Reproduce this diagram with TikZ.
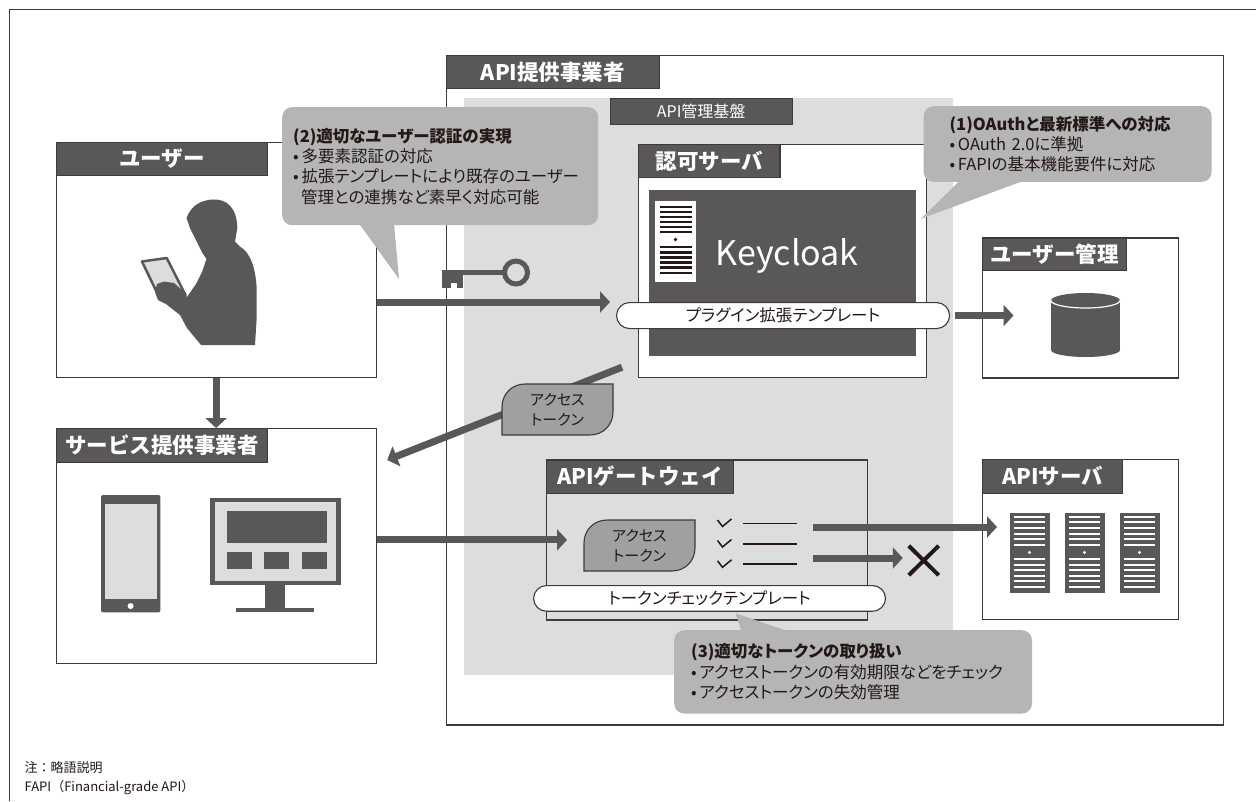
\documentclass[tikz,border=0pt]{standalone}
\usepackage{fontspec}
\setmainfont{Noto Sans CJK JP}
\newfontfamily\propjp{Noto Sans CJK JP}[RawFeature=+palt]
\usetikzlibrary{arrows.meta,positioning}

\definecolor{ink}{HTML}{231815}
\definecolor{edge}{HTML}{3E3A39}
\definecolor{slate}{HTML}{595757}
\definecolor{pale}{HTML}{DCDDDD}
\definecolor{bubble}{HTML}{B5B5B6}
\definecolor{tokengray}{HTML}{9FA0A0}

\tikzset{
  box/.style={draw=edge, line width=1.2pt, fill=white, anchor=north west, inner sep=0pt},
  tabhead/.style={draw=edge, line width=1.2pt, fill=slate, text=white, anchor=north west, inner sep=0pt, font=\bfseries\fontsize{21.5}{24}\selectfont},
  pill/.style={draw=edge, line width=1.1pt, fill=white, rounded corners=13pt, minimum height=26pt, anchor=north west, inner sep=0pt, text=ink, font=\propjp\fontsize{16.5}{18}\selectfont},
  flow/.style={draw=slate, line width=7pt, -{Triangle[length=10pt,width=21pt]}},
  bubblebox/.style={fill=bubble, rounded corners=10pt, anchor=north west, align=left, inner ysep=0pt, text=ink, font=\propjp\fontsize{16.5}{20.3}\selectfont},
  tokentext/.style={align=center, text=ink, font=\propjp\fontsize{15}{20}\selectfont},
}

\begin{document}
\begin{tikzpicture}[x=1pt, y=-1pt]
\useasboundingbox (0,0) rectangle (1256,801);
\fill[white] (0,0) rectangle (1256,801);
\draw[edge, line width=1pt] (1256,9.5) -- (9,9.5) -- (9,801);

% API provider and its management platform
\node[box, minimum width=776.5pt, minimum height=669.3pt] (prov) at (446,55) {};
\node[tabhead, minimum width=212.5pt, minimum height=33pt] (provhd) at (prov.north west) {API提供事業者};
\node[fill=pale, anchor=north west, inner sep=0pt, minimum width=488.6pt, minimum height=577pt] (mgmt) at (464,98) {};
\node[draw=edge, fill=slate, text=white, anchor=north west, inner sep=0pt, minimum width=182pt, minimum height=26pt, font=\fontsize{16}{18}\selectfont] (mgmthd) at (610,98) {API管理基盤};

% authorization server
\node[box, minimum width=288pt, minimum height=232.7pt] (authz) at (638,144) {};
\node[tabhead, minimum width=141.4pt, minimum height=32.7pt] (authzhd) at (authz.north west) {認可サーバ};
\node[fill=slate, anchor=north west, inner sep=0pt, minimum width=267.6pt, minimum height=166pt] (kc) at (648.4,190) {};
\fill[white] (655,201) rectangle (696,281.7);
\foreach \ly in {0,...,5}{
  \draw[ink, line width=2.8pt] (660,207+5*\ly) -- (691.5,207+5*\ly);
  \draw[ink, line width=2.8pt] (660,247+5.2*\ly) -- (691.5,247+5.2*\ly);
}
\fill[ink] (675.5,239.5) circle (1.8pt);
\node[anchor=base, text=white, font=\fontsize{34}{36}\selectfont] (kcname) at (787,265) {Keycloak};
\node[pill, minimum width=333pt] (plugin) at (616,302) {プラグイン拡張テンプレート};

% user store
\node[box, minimum width=196pt, minimum height=140pt] (usermgmt) at (982,237.3) {};
\node[tabhead, minimum width=144pt, minimum height=32.7pt] (usermgmthd) at (usermgmt.north west) {ユーザー管理};
\fill[slate] (1051,300.5) rectangle (1120,350);
\fill[slate] (1085.5,350) ellipse [x radius=34.5, y radius=7];
\fill[slate] (1085.5,300.5) ellipse [x radius=34.5, y radius=7.5];
\draw[white, line width=1.2pt] (1051,300.5) arc [start angle=180, end angle=0, x radius=34.5, y radius=7.5];

% user
\node[box, minimum width=320pt, minimum height=234.7pt] (user) at (55.5,142) {};
\node[tabhead, minimum width=211.5pt, minimum height=33pt] (userhd) at (user.north west) {ユーザー};
\filldraw[fill=pale, draw=slate, line width=2.5pt, line join=round] (142,261.5) -- (166.7,258) -- (185.5,295) -- (160.5,300) -- cycle;
\fill[slate] (212,199.5) .. controls (227,198.5) and (237,208) .. (237.3,228) -- (235,241.7) -- (240,246.7)
  .. controls (250,252) and (256,268) .. (256.7,290) -- (256.7,318) -- (255,345) -- (201,345)
  -- (187,328) -- (180,315) -- (166,304) -- (158,300) -- (155,292) -- (157,284) -- (164,281.5)
  -- (174,283) -- (182,290) -- (187,297) -- (196,284) -- (202,272) -- (206.5,259) -- (202.5,253)
  -- (196,240) -- (190,228) -- (186.5,218) .. controls (191,206) and (200,200.5) .. (212,199.5) -- cycle;

% service provider
\node[box, minimum width=320pt, minimum height=234.7pt] (svc) at (55.5,428) {};
\node[tabhead, minimum width=211.5pt, minimum height=33.7pt] (svchd) at (svc.north west) {サービス提供事業者};
\fill[slate, rounded corners=2pt] (101,495) rectangle (160.4,612.3);
\fill[pale] (105.3,504.3) rectangle (157.1,599);
\fill[white] (130.6,606) circle (3pt);
\fill[slate] (210,498) rectangle (341,584.7);
\fill[pale] (215,502) rectangle (335.5,580.7);
\fill[slate] (227,511) rectangle (326.5,542.7);
\foreach \bx in {227,264,301.5}{
  \fill[slate] (\bx,552) rectangle ++(25,16.7);
}
\fill[slate] (265,584) rectangle (285,608);
\fill[slate] (236,607.7) rectangle (314,612.3);

% gateway and API servers
\node[box, fill=pale, minimum width=320.7pt, minimum height=160pt] (gw) at (546,459.3) {};
\node[tabhead, minimum width=186.7pt, minimum height=33.4pt] (gwhd) at (gw.north west) {APIゲートウェイ};
\node[box, minimum width=196pt, minimum height=159.7pt] (apisrv) at (982,459) {};
\node[tabhead, minimum width=140pt, minimum height=33.7pt] (apisrvhd) at (apisrv.north west) {APIサーバ};
\foreach \sx in {1009.5,1064.5,1119.5}{
  \fill[slate] (\sx,512.7) rectangle ++(40,80);
  \foreach \ly in {0,...,5}{
    \draw[white, line width=2pt] (\sx+4.5,516.7+5.6*\ly) -- ++(31,0);
    \draw[white, line width=2pt] (\sx+4.5,559+5.6*\ly) -- ++(31,0);
  }
  \fill[white] (\sx+20,552.5) circle (1.6pt);
}

% key
\fill[slate] (441.5,269.5) rectangle (503,275.2);
\fill[slate] (441.5,269.5) rectangle (463.3,282.7);
\fill[slate] (441.5,282.7) rectangle (450.7,288.3);
\fill[slate] (456.7,282.7) rectangle (463.3,288.3);
\draw[slate, line width=5pt] (516,272.5) circle (11.5pt);

% flows
\coordinate (okout) at (813,527);
\coordinate (ngout) at (813,558);
\node[minimum width=29.5pt, minimum height=29pt, inner sep=0pt] (deny) at (923.7,560.5) {};
\draw[flow] (user.east |- plugin.north) -- ([xshift=-6pt]plugin.north west);
\draw[flow] ([xshift=4.5pt]plugin.east) -- ([xshift=31.5pt]usermgmt.west |- plugin.east);
\draw[flow] (user.south) -- (svc.north);
\draw[flow] ([shift={(-16pt,10.7pt)}]authz.south west) -- ([shift={(10.5pt,-32pt)}]svc.north east);
\draw[flow] (svc.east |- gw.west) -- ([xshift=21pt]gw.west);
\draw[flow] (okout) -- ([xshift=15pt]okout -| apisrv.west);
\draw[flow] (ngout) -- ([xshift=-6pt]ngout -| deny.west);
\draw[ink, line width=4pt] (deny.north west) -- (deny.south east) (deny.north east) -- (deny.south west);

% access tokens
\foreach \tx/\ty in {502/384, 584/520}{
  \filldraw[fill=tokengray, draw=edge, line width=1.1pt] (\tx,\ty+51) -- (\tx,\ty+23)
    .. controls (\tx,\ty+10) and (\tx+10,\ty) .. (\tx+23,\ty) -- (\tx+111,\ty) -- (\tx+111,\ty+28)
    .. controls (\tx+111,\ty+41) and (\tx+101,\ty+51) .. (\tx+88,\ty+51) -- cycle;
}
\node[tokentext] (issued) at (557.5,409.5) {アクセス\\トークン};
\node[tokentext] (presented) at (639.5,545.5) {アクセス\\トークン};

% token checks
\foreach \cy in {523.5,544,564.3}{
  \draw[ink, line width=1.5pt] (717.5,\cy-3.5) -- (722.5,\cy+3) -- (731.5,\cy-4.5);
  \draw[ink, line width=1.8pt] (743,\cy) -- (797,\cy);
}
\node[pill, minimum width=352pt, minimum height=25.7pt] (check) at (533,585) {トークンチェックテンプレート};

% notes
\node[bubblebox, minimum width=288pt, minimum height=75.7pt, text width=236pt, inner xsep=26pt] (stdnote) at (923.4,106)
  {\textbf{(1)OAuthと最新標準への対応}\\•\,OAuth 2.0に準拠\\•\,FAPIの基本機能要件に対応};
\fill[bubble] ([xshift=37pt,yshift=2pt]stdnote.south west) -- ([xshift=102pt,yshift=2pt]stdnote.south west) -- (921,218.7) -- cycle;

\node[bubblebox, minimum width=316pt, minimum height=118pt, text width=294pt, inner xsep=11pt] (authnote) at (282,107)
  {\textbf{(2)適切なユーザー認証の実現}\\•\,多要素認証の対応\\•\,拡張テンプレートにより既存のユーザー\\\hspace*{8pt}管理との連携など素早く対応可能};
\fill[bubble] ([xshift=77pt,yshift=2pt]authnote.south west) -- ([xshift=112pt,yshift=2pt]authnote.south west) -- (399,279) -- cycle;

\node[bubblebox, minimum width=357.8pt, minimum height=83.3pt, text width=323.8pt, inner xsep=17pt] (tokennote) at (674,630)
  {\textbf{(3)適切なトークンの取り扱い}\\•\,アクセストークンの有効期限などをチェック\\•\,アクセストークンの失効管理};
\fill[bubble] ([xshift=67.7pt,yshift=-2pt]tokennote.north west) -- ([xshift=116.4pt,yshift=-2pt]tokennote.north west) -- (735.6,613.3) -- cycle;

\node[anchor=north west, align=left, inner sep=0pt, text=ink, font=\fontsize{13}{19}\selectfont] (abbr) at (24.5,761)
  {注：略語説明\\FAPI（Financial-grade API）};
\end{tikzpicture}
\end{document}
